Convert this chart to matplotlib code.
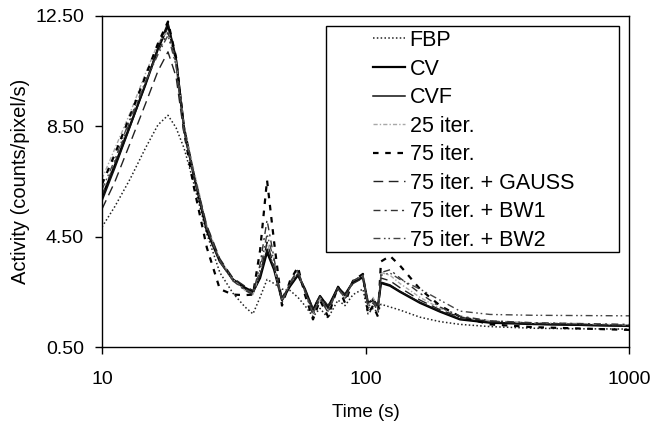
import matplotlib
matplotlib.use("Agg")
import matplotlib.pyplot as plt
from matplotlib.patches import Rectangle
import numpy as np

plt.rcParams['font.family'] = ['Liberation Sans', 'DejaVu Sans']

time_s = [10, 11.2, 12.8, 14.6, 16.3, 17.8, 19.1, 20.5, 22.2, 25.0, 28.0, 31.4, 34.9, 37.4,
          39.8, 42.3, 45.0, 48.2, 51.7, 55.4, 58.9, 63.2, 67.2, 72.1, 78.6, 83.6, 89.7, 97.8,
          102.2, 106.8, 111.5, 114.5, 123.9, 135.2, 161.0, 191.8, 228.4, 296.9, 432.2, 651.6, 1000]

fbp = [4.85, 5.6, 6.6, 7.7, 8.55, 8.9, 8.45, 7.7, 6.5, 4.6, 3.2, 2.45, 1.95, 1.7,
       2.3, 2.95, 2.8, 2.6, 2.55, 2.3, 2.0, 1.6, 1.9, 1.55, 2.2, 2.0, 2.4, 2.6,
       1.7, 1.9, 1.75, 2.05, 1.95, 1.84, 1.58, 1.42, 1.32, 1.24, 1.18, 1.16, 1.15]
cv = [5.94, 7.1, 8.55, 10.0, 11.3, 12.14, 10.9, 8.4, 6.8, 4.7, 3.6, 2.95, 2.65, 2.5,
      3.0, 3.94, 3.3, 2.2, 2.7, 3.1, 2.6, 1.85, 2.35, 1.95, 2.65, 2.4, 2.86, 3.02,
      2.1, 2.2, 2.0, 2.82, 2.72, 2.5, 2.1, 1.78, 1.5, 1.38, 1.33, 1.3, 1.27]
cvf = [5.8, 7.0, 8.5, 10.0, 11.35, 12.25, 11.0, 8.5, 6.9, 4.8, 3.65, 2.95, 2.6, 2.45,
       3.05, 4.05, 3.35, 2.25, 2.75, 3.15, 2.55, 1.8, 2.3, 1.9, 2.7, 2.35, 2.9, 3.05,
       2.05, 2.25, 1.95, 2.85, 2.75, 2.52, 2.12, 1.8, 1.52, 1.4, 1.33, 1.29, 1.25]
it25 = [6.6, 7.7, 9.0, 10.4, 11.5, 12.0, 10.8, 8.5, 7.0, 4.9, 3.7, 2.95, 2.55, 2.4,
        3.2, 4.3, 3.4, 2.2, 2.8, 3.2, 2.5, 1.7, 2.3, 1.8, 2.6, 2.3, 2.9, 3.1,
        2.0, 2.3, 1.9, 3.2, 3.1, 2.8, 2.3, 1.9, 1.6, 1.45, 1.38, 1.35, 1.3]
it75 = [6.4, 7.5, 8.9, 10.3, 11.5, 12.3, 11.0, 8.3, 6.4, 4.1, 2.6, 2.4, 2.38, 2.4,
        4.0, 6.55, 4.3, 2.0, 2.9, 3.4, 2.4, 1.5, 2.2, 1.6, 2.7, 2.1, 2.9, 3.15,
        1.7, 2.0, 1.6, 3.6, 3.8, 3.45, 2.6, 2.0, 1.6, 1.32, 1.22, 1.17, 1.12]
gauss = [5.5, 6.5, 7.9, 9.3, 10.5, 11.2, 10.3, 8.2, 6.8, 4.9, 3.7, 3.0, 2.7, 2.55,
         3.1, 4.3, 3.4, 2.3, 2.75, 3.15, 2.6, 1.9, 2.35, 2.0, 2.6, 2.4, 2.8, 3.0,
         2.1, 2.2, 2.0, 3.0, 2.9, 2.65, 2.2, 1.85, 1.58, 1.42, 1.36, 1.32, 1.28]
bw1 = [6.0, 7.2, 8.7, 10.1, 11.2, 11.9, 10.8, 8.4, 6.9, 4.8, 3.6, 2.9, 2.55, 2.4,
       3.5, 5.1, 3.7, 2.1, 2.85, 3.3, 2.5, 1.65, 2.25, 1.75, 2.65, 2.2, 2.9, 3.1,
       1.9, 2.1, 1.8, 3.2, 3.3, 3.0, 2.45, 1.95, 1.62, 1.45, 1.38, 1.35, 1.32]
bw2 = [6.2, 7.3, 8.8, 10.1, 11.1, 11.8, 10.7, 8.3, 6.8, 4.8, 3.6, 2.9, 2.6, 2.45,
       3.3, 4.6, 3.6, 2.15, 2.8, 3.25, 2.55, 1.7, 2.3, 1.8, 2.65, 2.25, 2.9, 3.1,
       1.95, 2.15, 1.85, 3.1, 3.18, 2.95, 2.6, 2.2, 1.8, 1.68, 1.65, 1.64, 1.63]

labels = ["FBP", "CV", "CVF", "25 iter.", "75 iter.", "75 iter. + GAUSS",
          "75 iter. + BW1", "75 iter. + BW2"]
y_ticks = [0.50, 4.50, 8.50, 12.50]
x_ticks = [10, 100, 1000]

series = [fbp, cv, cvf, it25, it75, gauss, bw1, bw2]
styles = [
    dict(color='#222222', lw=1.1, ls=(0, (1, 1.5))),
    dict(color='black', lw=1.6, ls='-'),
    dict(color='#111111', lw=1.1, ls='-'),
    dict(color='#a8a8a8', lw=1.0, ls=(0, (3, 1.5, 1, 1.5))),
    dict(color='black', lw=1.6, ls=(0, (2.5, 3))),
    dict(color='#222222', lw=1.0, ls=(0, (7, 4))),
    dict(color='#333333', lw=1.0, ls=(0, (5, 3, 1.5, 3))),
    dict(color='#444444', lw=1.0, ls=(0, (5, 2.5, 1.2, 2, 1.2, 2.5))),
]

fig = plt.figure(figsize=(6.68, 4.30), dpi=100)
ax = fig.add_axes([102/668, 1 - 347/430, 527/668, 331/430])

handles = []
for data, lab, st in zip(series, labels, styles):
    h, = ax.plot(time_s, data, label=lab, **st)
    handles.append(h)

ax.set_xscale('log')
ax.set_xlim(10, 1000)
ax.set_ylim(0.5, 12.5)
ax.set_xticks(x_ticks)
ax.set_xticklabels([str(v) for v in x_ticks])
ax.xaxis.set_minor_locator(matplotlib.ticker.NullLocator())
ax.set_yticks(y_ticks)
ax.set_yticklabels([f"{v:.2f}" for v in y_ticks])
ax.tick_params(axis='both', direction='out', length=5, width=1, labelsize=14,
               colors='black', pad=8)
ax.tick_params(axis='x', pad=12)
for sp in ax.spines.values():
    sp.set_linewidth(1.0)
    sp.set_color('black')

ax.set_xlabel("Time (s)", fontsize=13.5, labelpad=12)
ax.set_ylabel("Activity (counts/pixel/s)", fontsize=14.5, labelpad=4)

# legend frame (Excel style with wide padding)
x0, x1 = (326 - 102) / 527, (619 - 102) / 527
y0, y1 = (347 - 252) / 331, (347 - 26) / 331
ax.add_patch(Rectangle((x0, y0), x1 - x0, y1 - y0, transform=ax.transAxes,
                       fill=True, facecolor='white', edgecolor='black', lw=1.0, zorder=5))
leg = ax.legend(handles=handles, loc='upper left',
                bbox_to_anchor=((373 - 102) / 527, (347 - 30) / 331),
                frameon=False, fontsize=15.5, handlelength=1.5, handletextpad=0.2,
                labelspacing=0.35, borderaxespad=0, borderpad=0)
leg.set_zorder(6)

fig.savefig("out.png", dpi=100)
